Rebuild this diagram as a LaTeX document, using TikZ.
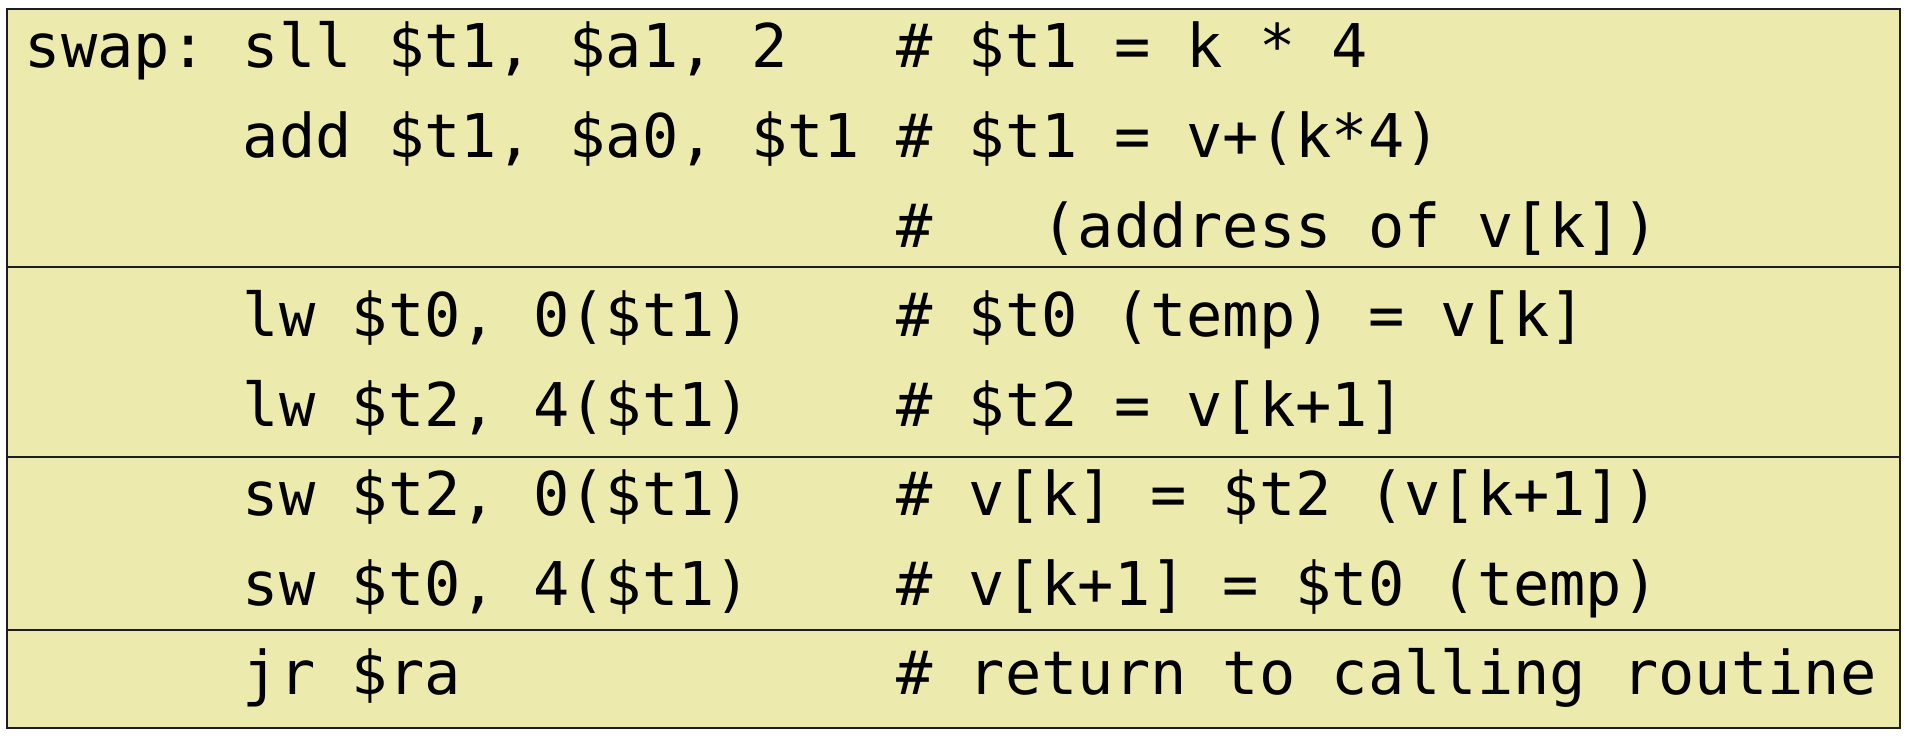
\documentclass[tikz,border=0pt]{standalone}
\usepackage{fontspec}
\setmonofont{DejaVu Sans Mono}
\definecolor{boxfill}{RGB}{237,234,173}
\definecolor{boxline}{RGB}{30,30,30}
\begin{document}
\begin{tikzpicture}[x=0.5pt,y=-0.5pt,
  codeline/.style={anchor=base west,inner sep=0pt,outer sep=0pt,
    font=\ttfamily\fontsize{30.15pt}{36pt}\selectfont},
  frame/.style={draw=boxline,line width=1.2pt}]
\useasboundingbox (0,0) rectangle (1907,738);
\path[fill=boxfill,frame] (7,9) rectangle (1900,728);
\coordinate (d1l) at (7,267);   \coordinate (d1r) at (1900,267);
\coordinate (d2l) at (7,457);   \coordinate (d2r) at (1900,457);
\coordinate (d3l) at (7,630);   \coordinate (d3r) at (1900,630);
\draw[frame] (d1l) -- (d1r);
\draw[frame] (d2l) -- (d2r);
\draw[frame] (d3l) -- (d3r);
\node[codeline] (l1) at (25,68)    {swap:~sll~\$t1,~\$a1,~2~~~\#~\$t1~=~k~*~4};
\node[codeline] (l2) at (25,157.5) {~~~~~~add~\$t1,~\$a0,~\$t1~\#~\$t1~=~v+(k*4)};
\node[codeline] (l3) at (25,247)   {~~~~~~~~~~~~~~~~~~~~~~~~\#~~~(address~of~v[k])};
\node[codeline] (l4) at (25,336.5) {~~~~~~lw~\$t0,~0(\$t1)~~~~\#~\$t0~(temp)~=~v[k]};
\node[codeline] (l5) at (25,426)   {~~~~~~lw~\$t2,~4(\$t1)~~~~\#~\$t2~=~v[k+1]};
\node[codeline] (l6) at (25,515.5) {~~~~~~sw~\$t2,~0(\$t1)~~~~\#~v[k]~=~\$t2~(v[k+1])};
\node[codeline] (l7) at (25,605)   {~~~~~~sw~\$t0,~4(\$t1)~~~~\#~v[k+1]~=~\$t0~(temp)};
\node[codeline] (l8) at (25,694.5) {~~~~~~jr~\$ra~~~~~~~~~~~~\#~return~to~calling~routine};
\end{tikzpicture}
\end{document}
